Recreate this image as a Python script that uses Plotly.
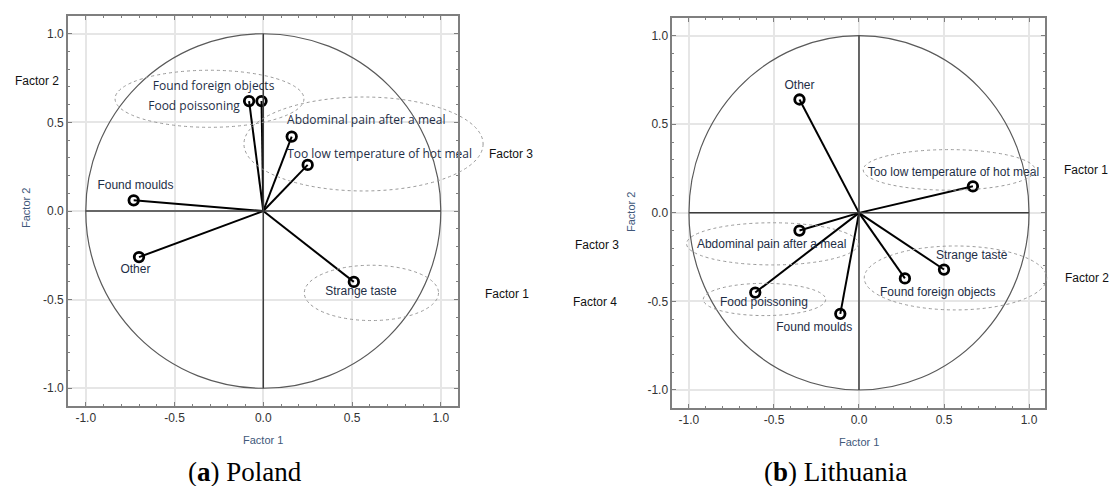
import plotly.graph_objects as go

# ---------------- data ----------------
pl_names = ["Found foreign objects", "Food poissoning", "Abdominal pain after a meal",
            "Too low temperature of hot meal", "Found moulds", "Other", "Strange taste"]
pl_f1 = [-0.01, -0.08, 0.16, 0.25, -0.73, -0.70, 0.51]
pl_f2 = [0.62, 0.62, 0.42, 0.26, 0.06, -0.26, -0.40]

lt_names = ["Other", "Too low temperature of hot meal", "Strange taste", "Found foreign objects",
            "Abdominal pain after a meal", "Food poissoning", "Found moulds"]
lt_f1 = [-0.35, 0.67, 0.50, 0.27, -0.35, -0.61, -0.11]
lt_f2 = [0.64, 0.15, -0.32, -0.37, -0.10, -0.45, -0.57]

tick_vals = [-1.0, -0.5, 0.0, 0.5, 1.0]

# ---------------- layout helpers ----------------
W, H = 1111, 486
SANS = "Liberation Sans, Arial, sans-serif"
panels = {
    "pl": dict(xd=[68 / W, 457.7 / W], yd=[1 - 406 / H, 1 - 16 / H], xr=[-1.1, 1.095], yr=[-1.1, 1.1],
               xa="x", ya="y"),
    "lt": dict(xd=[672.3 / W, 1045 / W], yd=[1 - 407.7 / H, 1 - 18 / H], xr=[-1.098, 1.094], yr=[-1.1, 1.1],
               xa="x2", ya="y2"),
}


def to_paper(p, x, y):
    g = panels[p]
    px = g["xd"][0] + (x - g["xr"][0]) / (g["xr"][1] - g["xr"][0]) * (g["xd"][1] - g["xd"][0])
    py = g["yd"][0] + (y - g["yr"][0]) / (g["yr"][1] - g["yr"][0]) * (g["yd"][1] - g["yd"][0])
    return px, py


# label placement (layout, in data units)
pl_label_pos = [(-0.28, 0.70), (-0.39, 0.585), (0.58, 0.51), (0.655, 0.315), (-0.72, 0.14), (-0.72, -0.33),
                (0.55, -0.455)]
pl_label_font = ["Open Sans"] * 4 + [SANS] * 3
lt_label_pos = [(-0.35, 0.715), (0.555, 0.227), (0.663, -0.245), (0.463, -0.452), (-0.514, -0.182),
                (-0.559, -0.507), (-0.263, -0.648)]

pl_ellipses = [(-0.835, 0.229, 0.472, 0.794), (-0.109, 1.238, 0.113, 0.643), (0.231, 0.987, -0.618, -0.306)]
lt_ellipses = [(0.025, 1.035, 0.128, 0.357), (0.031, 1.104, -0.548, -0.187), (-1.014, -0.004, -0.294, -0.056),
               (-0.916, -0.196, -0.58, -0.398)]

pl_outside = [("Factor 2", -1.277, 0.733), ("Factor 3", 1.394, 0.324), ("Factor 1", 1.371, -0.466)]
lt_outside = [("Factor 1", 1.334, 0.244), ("Factor 2", 1.339, -0.369), ("Factor 3", -1.543, -0.182),
              ("Factor 4", -1.553, -0.501)]

LABEL_COLOR = "#1e2e46"
TITLE_COLOR = "#40587a"

fig = go.Figure()
shapes = []
annotations = []


def add_panel(p, names, f1, f2, label_pos, fonts, ellipses, outside):
    g = panels[p]
    xa, ya = g["xa"], g["ya"]
    shapes.append(dict(type="circle", xref=xa, yref=ya, x0=-1, x1=1, y0=-1, y1=1,
                       line=dict(color="#5a5a5a", width=1.2), layer="above"))
    shapes.append(dict(type="line", xref=xa, yref=ya, x0=-1, x1=1, y0=0, y1=0,
                       line=dict(color="#3c3c3c", width=1.5), layer="above"))
    shapes.append(dict(type="line", xref=xa, yref=ya, x0=0, x1=0, y0=-1, y1=1,
                       line=dict(color="#3c3c3c", width=1.5), layer="above"))
    vx, vy = [], []
    for a, b in zip(f1, f2):
        vx += [0, a, None]
        vy += [0, b, None]
    fig.add_trace(go.Scatter(x=vx, y=vy, mode="lines", line=dict(color="black", width=2),
                             xaxis=xa, yaxis=ya, showlegend=False, hoverinfo="skip"))
    fig.add_trace(go.Scatter(x=f1, y=f2, mode="markers", text=names,
                             marker=dict(symbol="circle-open", size=9.5, color="black", line=dict(width=2.8)),
                             xaxis=xa, yaxis=ya, showlegend=False, hoverinfo="text"))
    for name, (lx, ly), fnt in zip(names, label_pos, fonts):
        fig.add_trace(go.Scatter(x=[lx], y=[ly], mode="text", text=[name], textposition="middle center",
                                 textfont=dict(family=fnt, size=12, color=LABEL_COLOR), cliponaxis=False,
                                 xaxis=xa, yaxis=ya, showlegend=False, hoverinfo="skip"))
    for x0, x1, y0, y1 in ellipses:
        px0, py0 = to_paper(p, x0, y0)
        px1, py1 = to_paper(p, x1, y1)
        shapes.append(dict(type="circle", xref="paper", yref="paper", x0=px0, x1=px1, y0=py0, y1=py1,
                           line=dict(color="#9a9a9a", width=1, dash="dot"), layer="above"))
    for txt, x, y in outside:
        px, py = to_paper(p, x, y)
        annotations.append(dict(text=txt, x=px, y=py, xref="paper", yref="paper", showarrow=False,
                                xanchor="center", yanchor="middle",
                                font=dict(family=SANS, size=12, color="#111111")))


add_panel("pl", pl_names, pl_f1, pl_f2, pl_label_pos, pl_label_font, pl_ellipses, pl_outside)
add_panel("lt", lt_names, lt_f1, lt_f2, lt_label_pos, [SANS] * 7, lt_ellipses, lt_outside)


def axis_common(domain, rng, anchor):
    return dict(domain=domain, range=rng, autorange=False, automargin=False, anchor=anchor,
                showline=True, mirror="allticks",
                linecolor="#7f7f7f", linewidth=1.6, ticks="inside", ticklen=4, tickcolor="#7f7f7f",
                tickvals=tick_vals, ticktext=[f"{v:.1f}" for v in tick_vals],
                showgrid=True, gridcolor="#e6e6e6", gridwidth=1.5, zeroline=False,
                minor=dict(dtick=0.1, tick0=0, ticks="inside", ticklen=2, tickcolor="#7f7f7f", showgrid=False),
                tickfont=dict(family=SANS, size=12, color="#333333"), fixedrange=True)


lay = dict(width=W, height=H, margin=dict(l=0, r=0, t=0, b=0, autoexpand=False),
           paper_bgcolor="white", plot_bgcolor="white", showlegend=False)
lay["xaxis"] = axis_common(panels["pl"]["xd"], panels["pl"]["xr"], "y")
lay["yaxis"] = axis_common(panels["pl"]["yd"], panels["pl"]["yr"], "x")
lay["xaxis2"] = axis_common(panels["lt"]["xd"], panels["lt"]["xr"], "y2")
lay["yaxis2"] = axis_common(panels["lt"]["yd"], panels["lt"]["yr"], "x2")

# axis titles
for p, xt_y, yt_x, yt_y in [("pl", 440, 26, 208), ("lt", 442, 631, 212)]:
    cx = to_paper(p, 0, 0)[0]
    annotations.append(dict(text="Factor 1", x=cx, y=1 - xt_y / H, xref="paper", yref="paper", showarrow=False,
                            xanchor="center", yanchor="middle", font=dict(family=SANS, size=11, color=TITLE_COLOR)))
    annotations.append(dict(text="Factor 2", x=yt_x / W, y=1 - yt_y / H, xref="paper", yref="paper",
                            showarrow=False, textangle=-90, xanchor="center", yanchor="middle",
                            font=dict(family=SANS, size=11, color=TITLE_COLOR)))

annotations.append(dict(text="(<b>a</b>) Poland", x=244.5 / W, y=1 - 472 / H, xref="paper", yref="paper",
                        showarrow=False, xanchor="center", yanchor="middle",
                        font=dict(family="Liberation Serif", size=27, color="black")))
annotations.append(dict(text="(<b>b</b>) Lithuania", x=835 / W, y=1 - 472 / H, xref="paper", yref="paper",
                        showarrow=False, xanchor="center", yanchor="middle",
                        font=dict(family="Liberation Serif", size=27, color="black")))

lay["shapes"] = shapes
lay["annotations"] = annotations
fig.update_layout(**lay)
fig.write_html("out.html", config={"displayModeBar": False},
               post_script="document.body.style.margin='0';document.body.style.overflow='hidden';")
